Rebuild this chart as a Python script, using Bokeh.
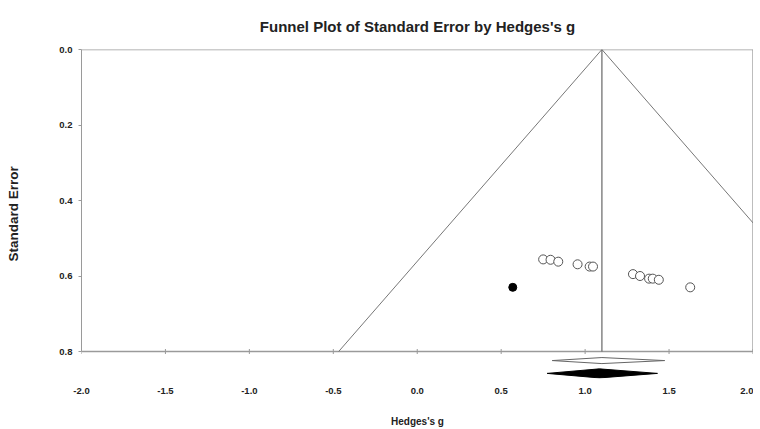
import math
from bokeh.plotting import figure
from bokeh.models import Range1d, FixedTicker, PrintfTickFormatter
from bokeh.embed import file_html
from bokeh.resources import INLINE

# ---- data ----
g_observed = [0.750, 0.794, 0.840, 0.955, 1.027, 1.047, 1.285, 1.327, 1.381, 1.403, 1.439, 1.626]
se_observed = [0.556, 0.557, 0.562, 0.569, 0.575, 0.575, 0.595, 0.600, 0.607, 0.607, 0.610, 0.630]
g_imputed = [0.569]
se_imputed = [0.630]

observed_mean = 1.10
observed_ci = [0.804, 1.474]
adjusted_mean = 1.085
adjusted_ci = [0.774, 1.431]

x_ticks = [-2.0, -1.5, -1.0, -0.5, 0.0, 0.5, 1.0, 1.5, 2.0]
y_ticks = [0.0, 0.2, 0.4, 0.6, 0.8]
z = 1.96

FONT = "Liberation Sans"
TXT = "#222222"
BOX = "#9a9a9a"

p = figure(width=753, height=429, output_backend="svg", toolbar_location=None,
           x_range=Range1d(-2.0, 2.003), y_range=Range1d(0.8715, 0.0),
           min_border_left=81, min_border_right=0, min_border_top=49, min_border_bottom=51,
           title="Funnel Plot of Standard Error by Hedges's g")
p.outline_line_color = None
p.grid.visible = False
p.background_fill_color = "white"
p.border_fill_color = "white"

p.title.align = "center"
p.title.text_font = FONT
p.title.text_font_size = "15px"
p.title.text_font_style = "bold"
p.title.text_color = TXT
p.title.standoff = 30

# y axis
ya = p.yaxis[0]
ya.bounds = (y_ticks[0], y_ticks[-1])
ya.ticker = FixedTicker(ticks=y_ticks)
ya.formatter = PrintfTickFormatter(format="%.1f")
ya.axis_line_color = BOX
ya.major_tick_line_color = BOX
ya.major_tick_out = 3
ya.major_tick_in = 0
ya.minor_tick_line_color = None
ya.major_label_standoff = 6
ya.major_label_text_font = FONT
ya.major_label_text_font_size = "9.5px"
ya.major_label_text_font_style = "bold"
ya.major_label_text_color = TXT
ya.axis_label = "Standard Error"
ya.axis_label_text_font = FONT
ya.axis_label_text_font_size = "13.5px"
ya.axis_label_text_font_style = "bold"
ya.axis_label_text_color = TXT
ya.axis_label_standoff = 35

# x axis
xa = p.xaxis[0]
xa.ticker = FixedTicker(ticks=x_ticks)
xa.formatter = PrintfTickFormatter(format="%.1f")
xa.axis_line_color = None
xa.major_tick_line_color = None
xa.major_tick_out = 0
xa.major_tick_in = 0
xa.minor_tick_line_color = None
xa.major_label_standoff = 9
xa.major_label_text_font = FONT
xa.major_label_text_font_size = "9.5px"
xa.major_label_text_font_style = "bold"
xa.major_label_text_color = TXT
xa.axis_label = "Hedges's g"
xa.axis_label_text_font = FONT
xa.axis_label_text_font_size = "10px"
xa.axis_label_text_font_style = "bold"
xa.axis_label_text_color = TXT
xa.axis_label_standoff = 19

x_lo, x_hi = x_ticks[0], x_ticks[-1]
y_lo, y_hi = y_ticks[0], y_ticks[-1]

# plot box (top, right, bottom)
p.multi_line(xs=[[x_lo, x_hi], [x_hi, x_hi], [x_lo, x_hi]],
             ys=[[y_lo, y_lo], [y_lo, y_hi], [y_hi, y_hi]],
             line_color=BOX, line_width=1.3)
# bottom tick marks
p.scatter(x=x_ticks, y=[y_hi] * len(x_ticks), marker="dash", angle=math.pi / 2,
          size=5, line_color=BOX, line_width=1)

# funnel
p.line(x=[observed_mean - z * y_hi, observed_mean, observed_mean + z * y_hi],
       y=[y_hi, y_lo, y_hi], line_color="#777777", line_width=1)
# mean line
p.line(x=[observed_mean, observed_mean], y=[y_lo, y_hi], line_color="#666666", line_width=1.2)

# studies
p.scatter(x=g_observed, y=se_observed, marker="circle", size=9,
          fill_color="white", line_color="#555555", line_width=1)
p.scatter(x=g_imputed, y=se_imputed, marker="circle", size=8,
          fill_color="black", line_color="black")

# summary diamonds
obs_y, obs_h = 0.824, 0.008
adj_y, adj_h = 0.858, 0.012
p.patch(x=[observed_ci[0], observed_mean, observed_ci[1], observed_mean],
        y=[obs_y, obs_y - obs_h, obs_y, obs_y + obs_h],
        fill_color="white", line_color="#666666", line_width=1)
p.patch(x=[adjusted_ci[0], adjusted_mean, adjusted_ci[1], adjusted_mean],
        y=[adj_y, adj_y - adj_h, adj_y, adj_y + adj_h],
        fill_color="black", line_color="black", line_width=1)

open("out.html", "w").write(file_html(p, INLINE))
